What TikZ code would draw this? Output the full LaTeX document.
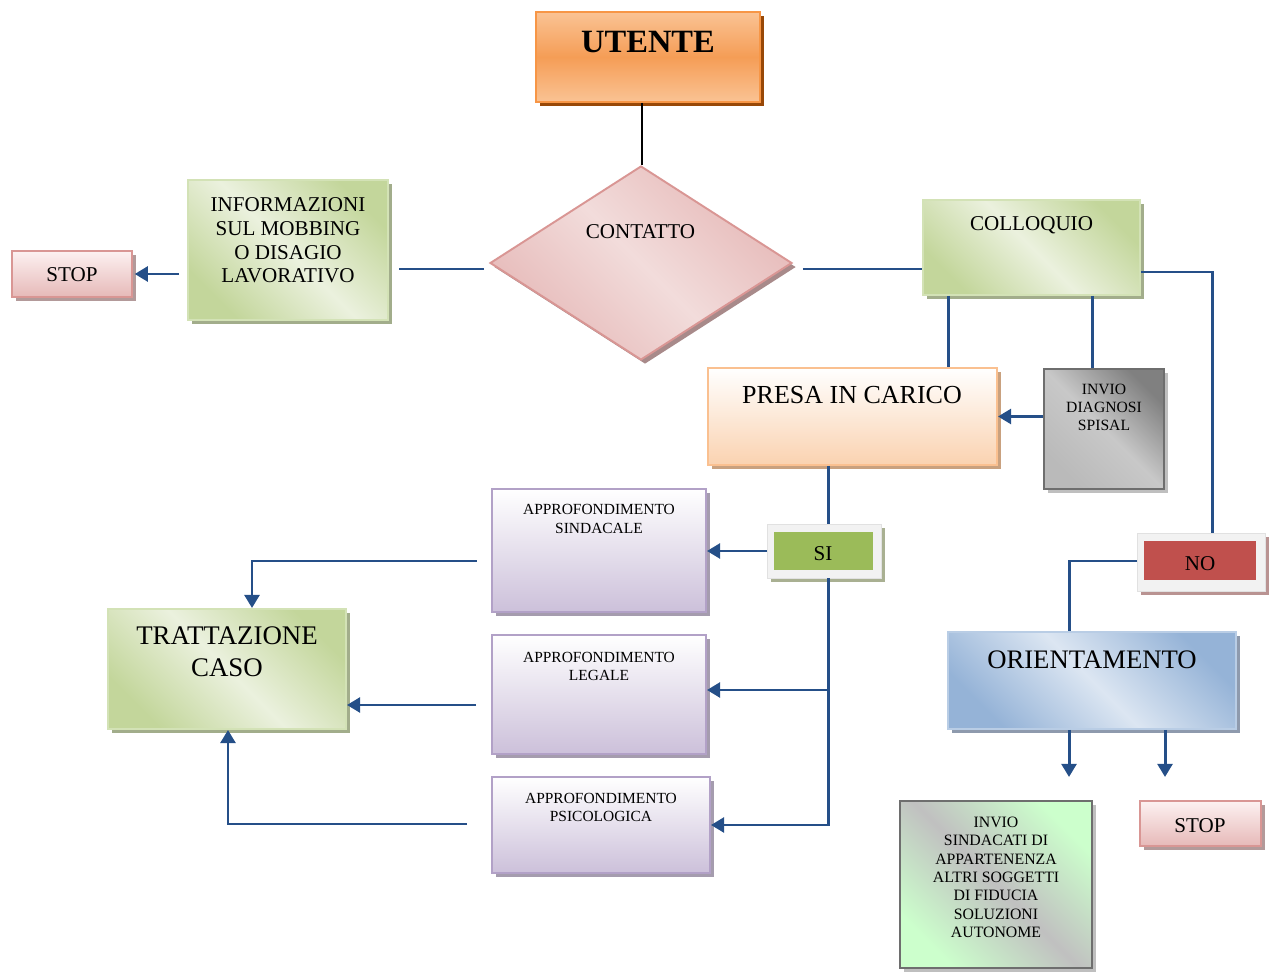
\documentclass[tikz,border=0pt]{standalone}
\usepackage{fontspec}
\setmainfont{Liberation Serif}
\usetikzlibrary{shapes.geometric,arrows.meta,fit,shadows}

\definecolor{lineC}{HTML}{254F88}
\definecolor{utB}{HTML}{F79646}\definecolor{utL}{HTML}{FAC394}\definecolor{utM}{HTML}{F59D56}\definecolor{utS}{HTML}{984807}
\definecolor{grB}{HTML}{D3E2B6}\definecolor{grD}{HTML}{C3D69B}\definecolor{grL}{HTML}{EBF1DE}\definecolor{grS}{HTML}{A2AD8B}
\definecolor{pkB}{HTML}{D99694}\definecolor{pkD}{HTML}{E6B9B8}\definecolor{pkL}{HTML}{F2DCDB}\definecolor{pkS}{HTML}{A88A8A}
\definecolor{stT}{HTML}{FDF1F1}\definecolor{stS}{HTML}{B39A9A}
\definecolor{prB}{HTML}{FAC090}\definecolor{prD}{HTML}{FAD2B0}\definecolor{prS}{HTML}{C9A17F}
\definecolor{apB}{HTML}{B2A1C7}\definecolor{apD}{HTML}{CCC0DA}\definecolor{apS}{HTML}{A59CAE}
\definecolor{orB}{HTML}{B9CDE5}\definecolor{orD}{HTML}{95B3D7}\definecolor{orL}{HTML}{DCE6F2}\definecolor{orS}{HTML}{8E9AAD}
\definecolor{gyB}{HTML}{6E6E6E}\definecolor{gyD}{HTML}{808080}\definecolor{gyL}{HTML}{C8C8C8}\definecolor{gyS}{HTML}{BFBFBF}
\definecolor{sgG}{HTML}{CCFFCC}\definecolor{sgY}{HTML}{C0C0C0}
\definecolor{frame}{HTML}{F2F2F2}\definecolor{siG}{HTML}{9BBB59}\definecolor{siS}{HTML}{A9B092}
\definecolor{noR}{HTML}{C0504D}\definecolor{noS}{HTML}{B99392}

\tikzset{
  x=0.02cm, y=-0.02cm,
  box/.style={inner sep=0pt, line width=1.1pt},
  shad/.style={drop shadow={shadow xshift=2.3pt, shadow yshift=-2.3pt, opacity=1, fill=#1, draw=none}},
  utentebox/.style={box, draw=utB, top color=utL, bottom color=utL, middle color=utM, shad=utS},
  greenbox/.style={box, draw=grB, top color=grD, bottom color=grD, middle color=grL, shading angle=-45, shad=grS},
  pinkdiam/.style={box, shape=diamond, draw=pkB, top color=pkD, bottom color=pkD, middle color=pkL, shading angle=-45, shad=pkS},
  stopbox/.style={box, draw=pkB, top color=stT, bottom color=pkD, shad=stS},
  presabox/.style={box, draw=prB, top color=white, bottom color=prD, shad=prS},
  approfbox/.style={box, draw=apB, top color=white, bottom color=apD, shad=apS},
  orientbox/.style={box, draw=orB, top color=orD, bottom color=orD, middle color=orL, shading angle=-45, shad=orS},
  diagbox/.style={box, line width=1.6pt, draw=gyB, top color=gyD, bottom color=gyL!80!gyD, middle color=gyL, shading angle=-45, shad=gyS},
  sindbox/.style={box, line width=1.6pt, draw=gyB, top color=sgG, bottom color=sgG, middle color=sgY, shading angle=-45, shad=gyS},
  framebox/.style={box, draw=frame!85!gray, line width=0.5pt, fill=frame, shad=#1},
  flat/.style={box, draw=none, fill=#1},
  tx/.style={inner sep=0pt, align=center, anchor=base, font=\fontsize{#1}{#1}\selectfont},
  conn/.style={draw=lineC, line width=1.7pt},
  arr/.style={conn, -{Triangle[length=7.5pt,width=8.5pt]}},
}

\begin{document}
\begin{tikzpicture}
\useasboundingbox (0,0) rectangle (1270,972);

% boxes
\node[utentebox, fit={(536,12)(760,102)}] (utente) {};
\node[pinkdiam, minimum width=6.04cm, minimum height=3.88cm] (contatto) at (641,263) {};
\node[greenbox, fit={(188,180)(388,320)}] (info) {};
\node[stopbox, fit={(12,251)(132,297)}] (stopL) {};
\node[greenbox, fit={(923,200)(1140,295)}] (coll) {};
\node[framebox=noS, fit={(1137,533)(1265,591)}] (noO) {};
\node[flat=noR, fit={(1144,541)(1256,580)}] (noI) {};
\node[presabox, fit={(708,368)(997,465)}] (presa) {};
\node[diagbox, fit={(1044,369)(1164,489)}] (diag) {};
\node[framebox=siS, fit={(767,524)(881,578)}] (siO) {};
\node[flat=siG, fit={(774,532)(873,570)}] (siI) {};
\node[approfbox, fit={(492,489)(706,612)}] (sind) {};
\node[approfbox, fit={(492,635)(706,754)}] (legale) {};
\node[approfbox, fit={(492,777)(710,873)}] (psico) {};
\node[greenbox, fit={(108,609)(346,729)}] (tratt) {};
\node[orientbox, fit={(948,632)(1236,729)}] (orient) {};
\node[sindbox, fit={(900,801)(1092,968)}] (sindac) {};
\node[stopbox, fit={(1140,801)(1261,846)}] (stopR) {};

% texts (multi-line nodes: base = last line)
\node[tx=18.5] (tUtente) at (648,53) {\bfseries UTENTE};
\node[tx=12] (tContatto) at (640.5,239) {CONTATTO};
\node[tx=12, font=\fontsize{12}{13.6}\selectfont] (tInfo) at (288,283) {INFORMAZIONI\\SUL MOBBING\\O DISAGIO\\LAVORATIVO};
\node[tx=12] (tStopL) at (72,282) {STOP};
\node[tx=12] (tColl) at (1031.5,231) {COLLOQUIO};
\node[tx=8.9, font=\fontsize{8.9}{10.2}\selectfont] (tDiag) at (1104,430.7) {INVIO\\DIAGNOSI\\SPISAL};
\node[tx=14.8] (tPresa) at (852,404) {PRESA IN CARICO};
\node[tx=12] (tSi) at (823,561) {SI};
\node[tx=12] (tNo) at (1200,570) {NO};
\node[tx=8.8, font=\fontsize{8.8}{10.6}\selectfont] (tSind) at (599,533) {APPROFONDIMENTO\\SINDACALE};
\node[tx=8.8, font=\fontsize{8.8}{10.2}\selectfont] (tLeg) at (599,680) {APPROFONDIMENTO\\LEGALE};
\node[tx=8.8, font=\fontsize{8.8}{10.2}\selectfont] (tPsi) at (601,821.5) {APPROFONDIMENTO\\PSICOLOGICA};
\node[tx=15.3, font=\fontsize{15.3}{18}\selectfont] (tTratt) at (227,676) {TRATTAZIONE\\CASO};
\node[tx=15.2] (tOrient) at (1092,668) {ORIENTAMENTO};
\node[tx=9, font=\fontsize{9}{10.4}\selectfont] (tSindac) at (996,937.3) {INVIO\\SINDACATI DI\\APPARTENENZA\\ALTRI SOGGETTI\\DI FIDUCIA\\SOLUZIONI\\AUTONOME};
\node[tx=12] (tStopR) at (1200,832) {STOP};

% helper coordinates
\coordinate (cU) at (642,0);
\coordinate (cL) at (0,269);
\coordinate (cR) at (1212,272);
\coordinate (cP) at (948,0);
\coordinate (cD) at (1092,0);
\coordinate (cS) at (828,0);
\coordinate (cLeg) at (828,690);
\coordinate (cT1) at (252,561);
\coordinate (cT2) at (476,705);
\coordinate (cT3) at (228,824);
\coordinate (cN) at (1069,561);
\coordinate (a1) at (1069,777);
\coordinate (a2) at (1165,777);

% connectors
\draw[line width=1pt] (cU |- utente.south) -- (cU |- contatto.north);
\draw[conn, shorten <=2.8pt, shorten >=5.7pt] (contatto.west |- cL) -- (cL -| info.east);
\draw[arr, shorten <=4.5pt, shorten >=1pt] (info.west |- stopL.east) -- (stopL.east);
\draw[conn, shorten <=5.7pt] (contatto.east |- cL) -- (cL -| coll.west);
\draw[conn] (cR -| coll.east) -- (cR) -- (cR |- noO.north);
\draw[conn] (cP |- coll.south) -- (cP |- presa.north);
\draw[conn] (cD |- coll.south) -- (cD |- diag.north);
\draw[arr] (diag.west |- presa.east) -- (presa.east);
\draw[conn] (cS |- presa.south) -- (cS |- siO.north);
\draw[arr] (siO.west) -- (siO.west -| sind.east);
\draw[arr] (cS |- siO.south) -- (cS |- psico.east) -- (psico.east);
\draw[arr] (cLeg) -- (cLeg -| legale.east);
\draw[arr, shorten <=8pt] (cT1 -| sind.west) -- (cT1) -- (cT1 |- tratt.north);
\draw[arr] (cT2) -- (cT2 -| tratt.east);
\draw[arr, shorten <=13.6pt] (cT3 -| psico.west) -- (cT3) -- (cT3 |- tratt.south);
\draw[conn] (cN -| noO.west) -- (cN) -- (cN |- orient.north);
\draw[arr] (a1 |- orient.south) -- (a1);
\draw[arr] (a2 |- orient.south) -- (a2);
\end{tikzpicture}
\end{document}
